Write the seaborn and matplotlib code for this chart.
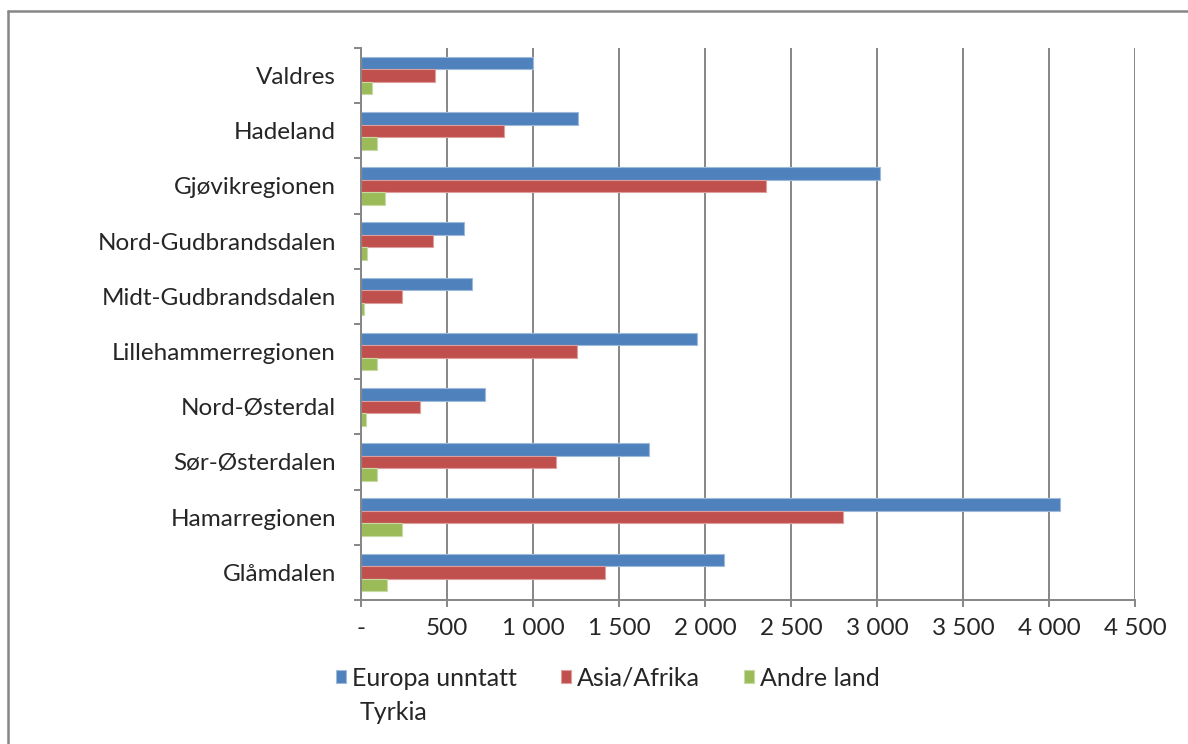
import numpy as np
import pandas as pd
import matplotlib.pyplot as plt
import matplotlib.colors as mcolors
from matplotlib.lines import Line2D
import seaborn as sns

# Data
regions = ["Valdres", "Hadeland", "Gjøvikregionen", "Nord-Gudbrandsdalen",
           "Midt-Gudbrandsdalen", "Lillehammerregionen", "Nord-Østerdal",
           "Sør-Østerdalen", "Hamarregionen", "Glåmdalen"]
europa = [1000, 1262, 3017, 597, 648, 1952, 721, 1672, 4062, 2112]
asia_afrika = [428, 833, 2355, 420, 240, 1256, 341, 1133, 2802, 1419]
andre_land = [62, 91, 141, 37, 16, 91, 29, 92, 237, 153]

series_names = ["Europa unntatt", "Asia/Afrika", "Andre land"]
legend_wrap = "Tyrkia"  # second line of the first legend label
colors = ["#4F81BD", "#C0504D", "#9BBB59"]
xticks = [0, 500, 1000, 1500, 2000, 2500, 3000, 3500, 4000, 4500]
xtick_labels = ["-", "500", "1 000", "1 500", "2 000", "2 500",
                "3 000", "3 500", "4 000", "4 500"]

df = pd.DataFrame({
    "region": regions * 3,
    "serie": np.repeat(series_names, len(regions)),
    "antall": europa + asia_afrika + andre_land,
})

sns.set_style("white")
plt.rcParams["font.family"] = ["Lato", "DejaVu Sans"]
FS = 17.5
LEG_FS = 18

W, H = 1188, 744
fig = plt.figure(figsize=(W / 100, H / 100), dpi=100)
ax = fig.add_axes([361 / W, 1 - 600 / H, (1135 - 361) / W, (600 - 48) / H])

sns.barplot(data=df, y="region", x="antall", hue="serie", hue_order=series_names,
            order=regions, palette=colors, orient="h", width=0.68,
            saturation=1, ax=ax, legend=True)

# light outline like the original
for p in ax.patches:
    fc = np.array(mcolors.to_rgb(p.get_facecolor()))
    p.set_edgecolor(tuple(fc + (1 - fc) * 0.45))
    p.set_linewidth(0.8)

gray = "#868686"
ax.set_xlim(0, 4500)
ax.set_ylim(len(regions) - 0.5, -0.5)
ax.set_xticks(xticks)
ax.set_xticklabels(xtick_labels, fontsize=FS)
ax.xaxis.grid(True, color=gray, linewidth=1.4)
ax.set_axisbelow(True)
ax.set_xlabel("")
ax.set_ylabel("")

ax.set_yticks(np.arange(len(regions) + 1) - 0.5, minor=True)
ax.tick_params(axis="y", which="major", length=0, pad=18, labelsize=FS)
ax.tick_params(axis="y", which="minor", left=True, length=5, width=1.4, color=gray)
ax.tick_params(axis="x", which="major", bottom=True, length=5, width=1.4, color=gray, pad=8)

for side in ["top", "right"]:
    ax.spines[side].set_visible(False)
for side in ["left", "bottom"]:
    ax.spines[side].set_color(gray)
    ax.spines[side].set_linewidth(1.4)

handles, labels = ax.get_legend_handles_labels()
ax.get_legend().remove()
leg = fig.legend(handles, labels, loc="center left", bbox_to_anchor=(336 / W, 1 - 678 / H),
                 ncol=3, frameon=False, fontsize=LEG_FS, handlelength=0.4, handleheight=0.4,
                 handletextpad=0.25, columnspacing=1.75, borderpad=0, borderaxespad=0)

# wrapped second line of "Europa unntatt Tyrkia"
fig.canvas.draw()
bb = leg.get_texts()[0].get_window_extent()
fig.text((bb.x0 + 7) / W, 1 - 712 / H, legend_wrap, fontsize=LEG_FS, va="center", ha="left")

# chart area border (left and top edges only visible)
fig.add_artist(Line2D([8 / W, 8 / W], [0, 1 - 11 / H], color=gray, linewidth=1.8))
fig.add_artist(Line2D([8 / W, 1], [1 - 11 / H, 1 - 11 / H], color=gray, linewidth=1.8))

fig.savefig("out.png", dpi=100)
